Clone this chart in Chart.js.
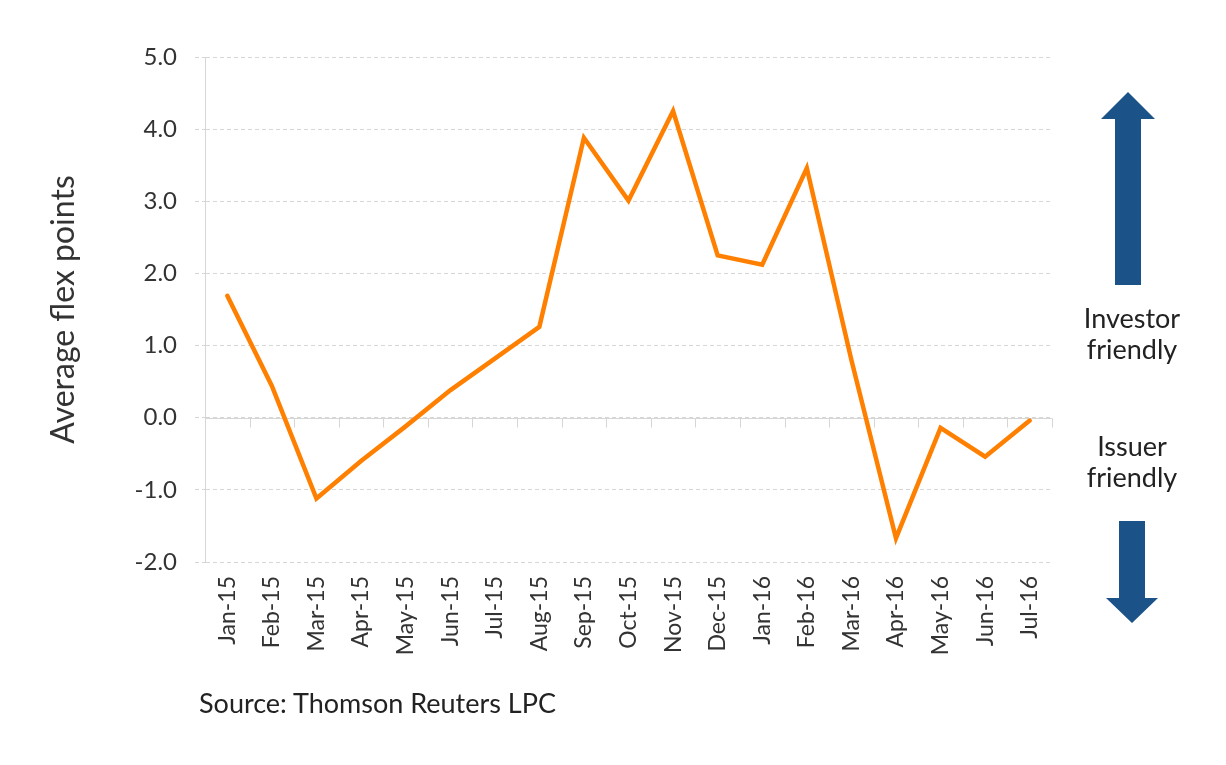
<!DOCTYPE html>
<html>
<head>
<meta charset="utf-8">
<script src="https://cdn.jsdelivr.net/npm/chart.js@4"></script>
<style>
    body { margin: 0; background: #fff; font-family: Lato, "Open Sans", sans-serif; color: #333; }
    #wrap { position: relative; width: 1226px; height: 765px; }
    #flexChart { position: absolute; left: 0; top: 0; }
    .note { position: absolute; text-align: center; font-size: 27px; line-height: 31px; color: #222; width: 150px; }
    #source { position: absolute; left: 199px; top: 686px; font-size: 27px; color: #222; }
    svg { position: absolute; left: 0; top: 0; }
</style>
</head>
<body>
<div id="wrap">
    <canvas id="flexChart" width="1226" height="765"></canvas>
    <svg width="1226" height="765">
        <polygon points="1128,92 1155,119 1141,119 1141,285 1115,285 1115,119 1101,119" fill="#1b5389"/>
        <polygon points="1119,521 1145,521 1145,598 1158,598 1132,623 1106,598 1119,598" fill="#1b5389"/>
    </svg>
    <div class="note" style="left:1057px; top:302px;">Investor<br>friendly</div>
    <div class="note" style="left:1057px; top:430px;">Issuer<br>friendly</div>
    <div id="source">Source: Thomson Reuters LPC</div>
</div>
<script>
// Monthly average flex points
const months = [
    "Jan-15", "Feb-15", "Mar-15", "Apr-15", "May-15", "Jun-15", "Jul-15",
    "Aug-15", "Sep-15", "Oct-15", "Nov-15", "Dec-15", "Jan-16", "Feb-16",
    "Mar-16", "Apr-16", "May-16", "Jun-16", "Jul-16"
];
const flexPoints = [
    1.69, 0.44, -1.12, -0.60, -0.12, 0.38, 0.82,
    1.26, 3.88, 3.01, 4.25, 2.25, 2.12, 3.46,
    0.80, -1.67, -0.14, -0.54, -0.04
];
const yMin = -2;
const yMax = 5;
const yStep = 1;

const gridColor = "#d6d6d6";
const textColor = "#333";

// Solid zero line with small ticks between months, drawn under the data line
const zeroAxisPlugin = {
    id: "zeroAxis",
    beforeDatasetsDraw(chart) {
        const { ctx, chartArea, scales } = chart;
        const y0 = Math.round(scales.y.getPixelForValue(0)) + 0.5;
        ctx.save();
        ctx.strokeStyle = gridColor;
        ctx.lineWidth = 1;
        ctx.beginPath();
        ctx.moveTo(chartArea.left, y0);
        ctx.lineTo(chartArea.right, y0);
        for (let i = 0; i <= months.length; i++) {
            const x = Math.round(scales.x.getPixelForValue(i - 0.5)) + 0.5;
            ctx.moveTo(x, y0);
            ctx.lineTo(x, y0 + 9);
        }
        ctx.stroke();
        ctx.restore();
    },
};

const ctx = document.getElementById("flexChart").getContext("2d");
new Chart(ctx, {
    type: "line",
    data: {
        labels: months,
        datasets: [
            {
                label: "Average flex points",
                data: flexPoints,
                borderColor: "#ff8000",
                borderWidth: 4.5,
                borderCapStyle: "round",
                borderJoinStyle: "miter",
                pointRadius: 0,
                tension: 0,
                fill: false,
            },
        ],
    },
    options: {
        responsive: false,
        animation: false,
        layout: {
            padding: { top: 57, right: 174, left: 0, bottom: 0 },
        },
        plugins: {
            legend: { display: false },
            tooltip: { enabled: false },
        },
        scales: {
            x: {
                offset: true,
                grid: { display: false, drawTicks: false },
                border: { display: false },
                ticks: {
                    minRotation: 90,
                    maxRotation: 90,
                    padding: 14,
                    color: textColor,
                    font: { family: "Lato", size: 23 },
                },
                afterFit: (scale) => {
                    scale.height = 203;
                },
            },
            y: {
                min: yMin,
                max: yMax,
                grid: {
                    color: gridColor,
                    tickLength: 10,
                    tickBorderDash: [4, 3],
                },
                border: { display: true, color: gridColor, dash: [4, 3] },
                ticks: {
                    stepSize: yStep,
                    padding: 18,
                    color: textColor,
                    font: { family: "Lato", size: 24 },
                    callback: (v) => v.toFixed(1),
                },
                title: {
                    display: true,
                    text: "Average flex points",
                    color: textColor,
                    font: { family: "Lato", size: 32 },
                    padding: { top: 44, bottom: 0 },
                },
                afterFit: (scale) => {
                    scale.width = 205;
                },
            },
        },
    },
    plugins: [zeroAxisPlugin],
});
</script>
</body>
</html>
